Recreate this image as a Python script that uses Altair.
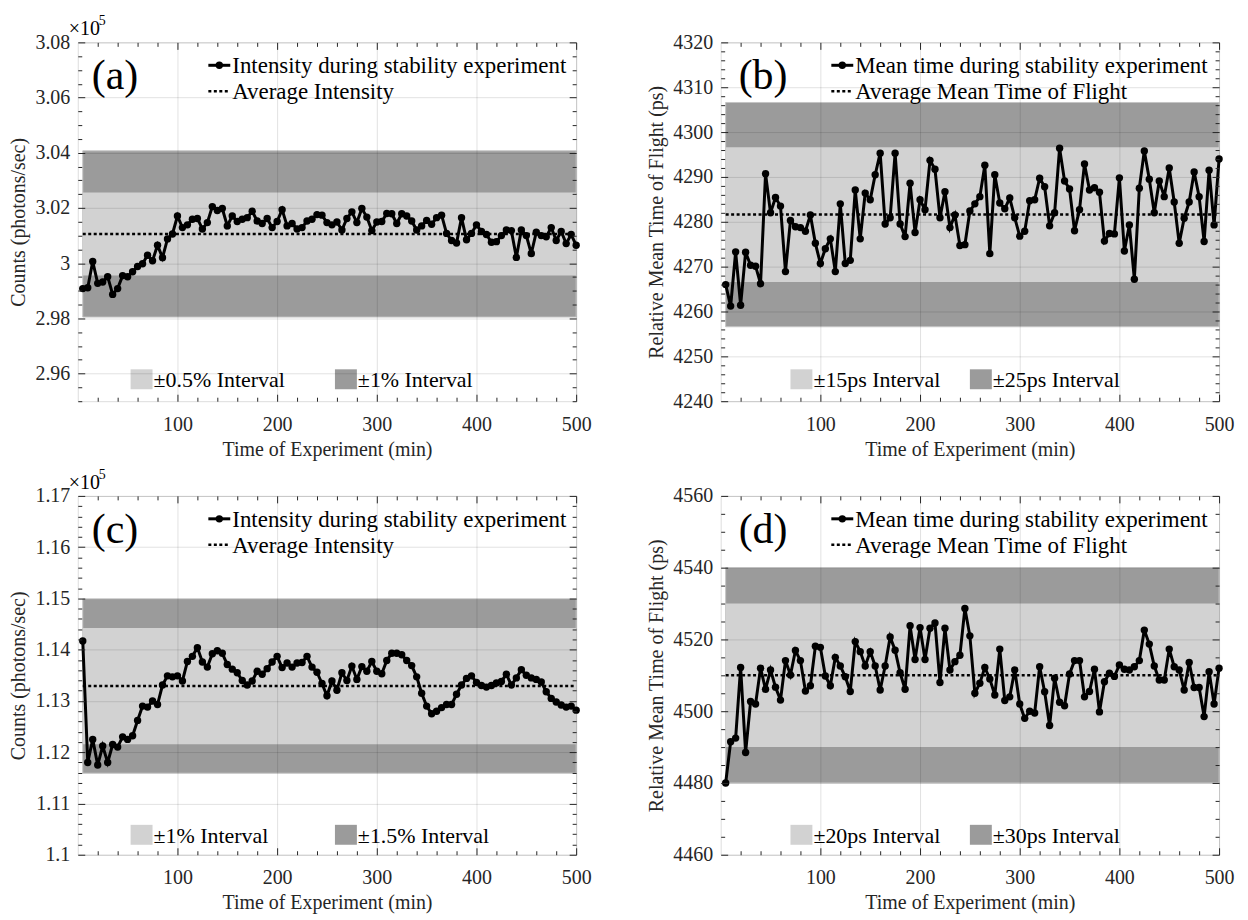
import altair as alt
import pandas as pd

FONT = "Liberation Serif"
DARK = "#9b9b9b"
LIGHT = "#d2d2d2"
AXC = "#262626"

TIME = list(range(5, 505, 5))

# (a) Intensity, x1e5 photons/sec
int_a = [2.9908, 2.9911, 3.0006, 2.9927, 2.9932, 2.9951, 2.9887, 2.9908, 2.9955, 2.9951,
         2.9969, 2.9988, 2.9998, 3.0029, 3.0009, 3.0065, 3.0020, 3.0088, 3.0106, 3.0171,
         3.0129, 3.0139, 3.0159, 3.0162, 3.0124, 3.0147, 3.0205, 3.0191, 3.0198, 3.0135,
         3.0171, 3.0151, 3.0159, 3.0165, 3.0188, 3.0153, 3.0144, 3.0162, 3.0129, 3.0151,
         3.0194, 3.0135, 3.0144, 3.0124, 3.0129, 3.0153, 3.0159, 3.0176, 3.0174, 3.0147,
         3.0139, 3.0149, 3.0120, 3.0162, 3.0186, 3.0147, 3.0198, 3.0167, 3.0118, 3.0149,
         3.0151, 3.0180, 3.0179, 3.0144, 3.0179, 3.0171, 3.0153, 3.0120, 3.0135, 3.0155,
         3.0141, 3.0165, 3.0174, 3.0108, 3.0082, 3.0073, 3.0165, 3.0085, 3.0108, 3.0139,
         3.0115, 3.0104, 3.0076, 3.0078, 3.0100, 3.0120, 3.0118, 3.0021, 3.0120, 3.0100,
         3.0035, 3.0112, 3.0100, 3.0096, 3.0129, 3.0082, 3.0115, 3.0071, 3.0104, 3.0065]

# (b) Mean time of flight, ps
mt_b = [4266.0, 4261.2, 4273.3, 4261.4, 4273.2, 4270.3, 4270.1, 4266.2, 4290.7, 4282.0,
        4285.4, 4283.5, 4268.9, 4280.3, 4278.9, 4278.7, 4277.9, 4281.5, 4275.2, 4270.7,
        4274.0, 4276.2, 4268.9, 4284.0, 4270.7, 4271.4, 4287.1, 4276.2, 4286.4, 4284.9,
        4290.5, 4295.3, 4279.5, 4280.9, 4295.3, 4279.5, 4276.7, 4288.6, 4277.6, 4284.9,
        4282.7, 4293.7, 4291.7, 4280.9, 4286.7, 4278.7, 4281.5, 4274.7, 4274.9, 4282.4,
        4284.0, 4285.6, 4292.6, 4272.9, 4290.5, 4284.2, 4282.9, 4285.3, 4280.9, 4276.8,
        4277.9, 4284.7, 4284.9, 4289.7, 4287.8, 4279.1, 4282.0, 4296.4, 4289.1, 4287.3,
        4278.0, 4282.7, 4292.9, 4287.1, 4287.6, 4286.6, 4275.7, 4277.4, 4277.3, 4289.8,
        4273.5, 4279.3, 4267.2, 4287.5, 4295.8, 4289.5, 4282.0, 4289.1, 4285.6, 4292.0,
        4284.4, 4275.2, 4280.8, 4284.4, 4291.1, 4285.6, 4275.6, 4291.5, 4279.3, 4294.0]

# (c) Intensity, x1e5 photons/sec
int_c = [1.1417, 1.1180, 1.1225, 1.1175, 1.1212, 1.1180, 1.1215, 1.1210, 1.1230, 1.1225,
         1.1232, 1.1262, 1.1290, 1.1288, 1.1300, 1.1293, 1.1331, 1.1349, 1.1347, 1.1349,
         1.1339, 1.1377, 1.1387, 1.1404, 1.1376, 1.1366, 1.1392, 1.1398, 1.1393, 1.1371,
         1.1362, 1.1355, 1.1340, 1.1331, 1.1339, 1.1358, 1.1352, 1.1363, 1.1376, 1.1387,
         1.1365, 1.1374, 1.1366, 1.1374, 1.1375, 1.1387, 1.1366, 1.1356, 1.1334, 1.1310,
         1.1339, 1.1321, 1.1355, 1.1340, 1.1368, 1.1342, 1.1367, 1.1358, 1.1377, 1.1358,
         1.1353, 1.1379, 1.1393, 1.1393, 1.1390, 1.1379, 1.1369, 1.1347, 1.1315, 1.1290,
         1.1275, 1.1280, 1.1287, 1.1293, 1.1293, 1.1313, 1.1331, 1.1344, 1.1349, 1.1336,
         1.1330, 1.1327, 1.1330, 1.1335, 1.1338, 1.1352, 1.1331, 1.1345, 1.1361, 1.1350,
         1.1345, 1.1342, 1.1337, 1.1318, 1.1305, 1.1298, 1.1292, 1.1288, 1.1290, 1.1282]

# (d) Mean time of flight, ps
mt_d = [4480.0, 4491.5, 4492.5, 4512.2, 4488.5, 4502.7, 4502.0, 4512.0, 4506.1, 4511.5,
        4506.7, 4503.1, 4514.1, 4510.1, 4516.9, 4514.1, 4505.6, 4507.1, 4518.1, 4517.8,
        4509.8, 4507.1, 4515.0, 4512.6, 4509.6, 4505.5, 4519.4, 4516.6, 4512.6, 4516.6,
        4512.6, 4505.9, 4512.6, 4520.7, 4517.0, 4510.7, 4506.1, 4523.8, 4514.4, 4523.3,
        4514.4, 4523.1, 4524.6, 4508.0, 4523.1, 4511.5, 4513.8, 4515.6, 4528.6, 4521.0,
        4505.0, 4507.8, 4512.2, 4509.0, 4504.5, 4517.3, 4503.0, 4504.0, 4511.5, 4502.0,
        4498.0, 4500.0, 4499.5, 4512.4, 4505.4, 4496.0, 4509.2, 4502.5, 4501.5, 4510.4,
        4514.1, 4514.1, 4504.0, 4505.5, 4511.7, 4499.8, 4508.2, 4510.6, 4509.7, 4512.9,
        4511.7, 4511.5, 4512.4, 4514.1, 4522.6, 4518.7, 4512.6, 4508.7, 4508.7, 4517.3,
        4512.4, 4511.5, 4505.9, 4513.6, 4506.6, 4506.6, 4498.5, 4511.0, 4502.0, 4512.0]

avg_a, avg_b, avg_c, avg_d = 3.0106, 4281.6, 1.1329, 4510.0

XMAJ = [100, 200, 300, 400, 500]
XMIN = [v for v in range(20, 500, 20) if v % 100 != 0]

ONE = pd.DataFrame({"k": [0]})


def ticks(lo, hi, step):
    n = int(round((hi - lo) / step))
    return [round(lo + i * step, 6) for i in range(n + 1)]


def minor(lo, hi, step, major):
    ms = set(round(m, 6) for m in major)
    return [v for v in ticks(lo, hi, step) if round(v, 6) not in ms]


def ax_labels(orient, vals, fmt):
    # grid + labels + title, no ticks
    kw = dict(orient=orient, values=vals, domain=False, grid=True,
              gridColor="#000000", gridOpacity=0.12, gridWidth=1,
              ticks=False, labels=True, zindex=1, format=fmt, labelFlush=False,
              labelFont=FONT, labelFontSize=20, labelColor=AXC,
              titleFont=FONT, titleFontSize=20, titleColor=AXC,
              titleFontWeight="normal")
    if orient in ("left", "right"):
        kw["labelPadding"] = 8
        kw["titlePadding"] = 6
    else:
        kw["labelPadding"] = 13
        kw["titlePadding"] = 5
    return alt.Axis(**kw)


def ax_ticks(orient, vals, size):
    # inward ticks: axis pulled inside by `size`, ticks pointing back to the frame
    return alt.Axis(orient=orient, values=vals, domain=False, grid=False,
                    offset=-size, tickSize=size, tickColor=AXC, tickWidth=1,
                    labels=False, zindex=1)


def txt(text, x, y, size, align="left", baseline="middle"):
    return alt.Chart(ONE).mark_text(text=text, align=align, baseline=baseline,
                                    fontSize=size, font=FONT, color="black"
                                    ).encode(x=alt.value(x), y=alt.value(y))


def swatch(x0, x1, y0, y1, color):
    return alt.Chart(ONE).mark_rect(color=color).encode(
        x=alt.value(x0), x2=alt.value(x1), y=alt.value(y0), y2=alt.value(y1))


def panel(vals, avg, inner, outer, ydom, ymaj, ystep, yfmt, ytitle, leg1, leg2,
          blab1, blab2, tag, tagx, legx, bx1, bx2, by, exp5):
    W, H = 500, 360
    d = pd.DataFrame({"t": TIME, "v": vals})
    bdf = pd.DataFrame({"x0": [TIME[0]], "x1": [TIME[-1]],
                        "lo_o": [outer[0]], "hi_o": [outer[1]],
                        "lo_i": [inner[0]], "hi_i": [inner[1]], "avg": [avg]})
    xs = alt.Scale(domain=[0, 500], nice=False, zero=False)
    ys = alt.Scale(domain=ydom, nice=False, zero=False)
    ymin_vals = minor(ydom[0], ydom[1], ystep, ymaj)
    base = alt.Chart(bdf)
    dark = base.mark_rect(color=DARK, stroke="#c4c4c4", strokeWidth=1).encode(
        x=alt.X("x0:Q", scale=xs, title="Time of Experiment (min)",
                axis=ax_labels("bottom", XMAJ, "d")),
        x2="x1:Q",
        y=alt.Y("lo_o:Q", scale=ys, title=ytitle, axis=ax_labels("left", ymaj, yfmt)),
        y2="hi_o:Q")
    light = base.mark_rect(color=LIGHT).encode(
        x=alt.X("x0:Q", scale=xs, title=None, axis=ax_ticks("top", XMAJ, 7)),
        x2="x1:Q",
        y=alt.Y("lo_i:Q", scale=ys, title=None, axis=ax_ticks("right", ymaj, 7)),
        y2="hi_i:Q")
    avg_rule = base.mark_rule(color="black", strokeWidth=2.5, strokeDash=[3, 2.5]).encode(
        x=alt.X("x0:Q", scale=xs, title=None, axis=ax_ticks("bottom", XMIN, 4)),
        x2="x1:Q",
        y=alt.Y("avg:Q", scale=ys, title=None, axis=ax_ticks("left", ymin_vals, 4)))
    line = alt.Chart(d).mark_line(color="black", strokeWidth=3).encode(
        x=alt.X("t:Q", scale=xs, title=None, axis=ax_ticks("top", XMIN, 4)),
        y=alt.Y("v:Q", scale=ys, title=None, axis=ax_ticks("right", ymin_vals, 4)))
    pts = alt.Chart(d).mark_point(filled=True, color="black", size=55, opacity=1).encode(
        x=alt.X("t:Q", scale=xs, title=None, axis=ax_ticks("bottom", XMAJ, 7)),
        y=alt.Y("v:Q", scale=ys, title=None, axis=ax_ticks("left", ymaj, 7)))

    L = []
    L.append(alt.Chart(ONE).mark_rule(color="black", strokeWidth=3).encode(
        x=alt.value(legx), x2=alt.value(legx + 22), y=alt.value(23)))
    L.append(alt.Chart(ONE).mark_point(filled=True, color="black", size=55, opacity=1).encode(
        x=alt.value(legx + 11), y=alt.value(23)))
    L.append(txt(leg1, legx + 24, 24, 23))
    L.append(alt.Chart(ONE).mark_rule(color="black", strokeWidth=2.5, strokeDash=[3, 2.5]).encode(
        x=alt.value(legx), x2=alt.value(legx + 22), y=alt.value(49)))
    L.append(txt(leg2, legx + 24, 50, 23))
    L.append(txt(tag, tagx, 34, 42))
    L.append(swatch(bx1, bx1 + 22, by - 10, by + 10, LIGHT))
    L.append(txt(blab1, bx1 + 23, by + 1, 22))
    L.append(swatch(bx2, bx2 + 22, by - 10, by + 10, DARK))
    L.append(txt(blab2, bx2 + 23, by + 1, 22))
    if exp5:
        L.append(txt("\u00d710", -9, -3, 20, baseline="bottom"))
        L.append(txt("5", 21, -14, 14, baseline="bottom"))
    return alt.layer(dark, light, avg_rule, line, pts, *L).resolve_axis(
        x="independent", y="independent").properties(width=W, height=H)


pa = panel(int_a, avg_a, (avg_a * 0.995, avg_a * 1.005), (avg_a * 0.99, avg_a * 1.01),
           [2.95, 3.08], ticks(2.96, 3.08, 0.02), 0.005, ".2~f", "Counts (photons/sec)",
           "Intensity during stability experiment", "Average Intensity",
           "\u00b10.5% Interval", "\u00b11% Interval", "(a)", 14, 131, 53, 258, 338, True)
pb = panel(mt_b, avg_b, (avg_b - 15, avg_b + 15), (avg_b - 25, avg_b + 25),
           [4240, 4320], ticks(4240, 4320, 10), 2, "d", "Relative Mean Time of Flight (ps)",
           "Mean time during stability experiment", "Average Mean Time of Flight",
           "\u00b115ps Interval", "\u00b125ps Interval", "(b)", 18, 111, 70, 250, 338, False)
pc = panel(int_c, avg_c, (avg_c * 0.99, avg_c * 1.01), (avg_c * 0.985, avg_c * 1.015),
           [1.10, 1.17], ticks(1.10, 1.17, 0.01), 0.002, ".2~f", "Counts (photons/sec)",
           "Intensity during stability experiment", "Average Intensity",
           "\u00b11% Interval", "\u00b11.5% Interval", "(c)", 14, 131, 53, 258, 340, True)
pd_ = panel(mt_d, avg_d, (avg_d - 20, avg_d + 20), (avg_d - 30, avg_d + 30),
            [4460, 4560], ticks(4460, 4560, 20), 5, "d", "Relative Mean Time of Flight (ps)",
            "Mean time during stability experiment", "Average Mean Time of Flight",
            "\u00b120ps Interval", "\u00b130ps Interval", "(d)", 18, 111, 70, 250, 340, False)

chart = alt.concat(pa, pb, pc, pd_, columns=2,
                   spacing=alt.RowColnumber(row=7, column=54)).properties(
    padding={"left": 0, "top": 4, "right": 5, "bottom": 5}
).configure_view(stroke=AXC, strokeWidth=1).configure(font=FONT)

chart.save("out.html", embed_options={"renderer": "svg", "actions": False})
